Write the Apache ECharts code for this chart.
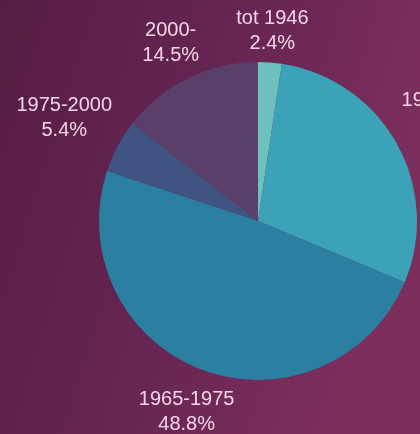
<!DOCTYPE html>
<html>
<head>
<meta charset="utf-8">
<script src="https://cdn.jsdelivr.net/npm/echarts@6/dist/echarts.min.js"></script>
<style>
  html, body { margin: 0; padding: 0; }
  #chart { width: 420px; height: 434px; }
</style>
</head>
<body>
<div id="chart"></div>
<script>
// periods and share of buildings (percent)
var periods = ['tot 1946', '1946-1965', '1965-1975', '1975-2000', '2000-']
var shares = [2.4, 28.9, 48.8, 5.4, 14.5]
var colors = ['#6dc0bb', '#3ba2b7', '#2b80a2', '#3f5481', '#5a3f6b']

var cx = 258
var cy = 221
var radius = 159
var gap = 9

var total = shares.reduce(function (a, b) { return a + b }, 0)
// middle angle of each slice, clockwise from 12 o'clock
var midAngles = []
var acc = 0
for (var i = 0; i < shares.length; i++) {
  midAngles.push((acc + shares[i] / 2) / total * Math.PI * 2)
  acc += shares[i]
}

var myChart = echarts.init(document.getElementById('chart'))
myChart.setOption({
  backgroundColor: {
    type: 'linear', x: 0, y: 0, x2: 1, y2: 0.3,
    colorStops: [
      { offset: 0, color: '#551d44' },
      { offset: 0.5, color: '#652452' },
      { offset: 1, color: '#7c2e5d' }
    ]
  },
  animation: false,
  series: [
    {
      type: 'pie',
      center: [cx, cy],
      radius: radius,
      startAngle: 90,
      clockwise: true,
      avoidLabelOverlap: false,
      data: periods.map(function (p, i) {
        return { name: p, value: shares[i], itemStyle: { color: colors[i] } }
      }),
      itemStyle: { borderWidth: 0 },
      emphasis: { disabled: true },
      label: {
        show: true,
        position: 'outside',
        formatter: function (p) {
          return p.name + '\n' + p.value.toFixed(1) + '%'
        },
        color: '#f2d6e6',
        fontFamily: 'Liberation Sans, Arial, sans-serif',
        fontSize: 20,
        lineHeight: 25
      },
      labelLine: { show: false },
      labelLayout: function (params) {
        // push the label out along the slice middle until its box clears the circle
        var a = midAngles[params.dataIndex]
        var dx = Math.sin(a)
        var dy = -Math.cos(a)
        var w = params.labelRect.width
        var h = params.labelRect.height * 0.8
        var d = radius + gap + Math.abs(dx) * w / 2 + Math.abs(dy) * h / 2
        return {
          x: cx + dx * d,
          y: cy + dy * d,
          align: 'center',
          verticalAlign: 'middle'
        }
      }
    }
  ]
})
</script>
</body>
</html>
